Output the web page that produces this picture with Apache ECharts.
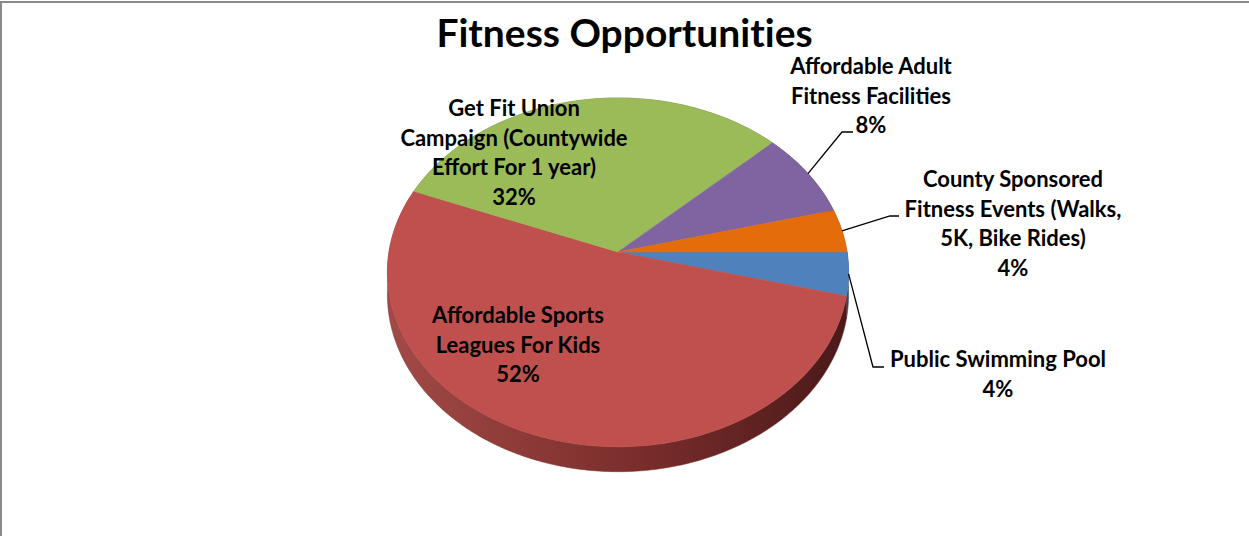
<!DOCTYPE html>
<html>
<head>
<meta charset="utf-8">
<title>Fitness Opportunities</title>
<script src="https://cdn.jsdelivr.net/npm/echarts@6/dist/echarts.min.js"></script>
<style>
  html, body { margin: 0; padding: 0; background: #ffffff; }
  #chart { width: 1249px; height: 536px; }
  #chart text { font-variant-ligatures: none; font-feature-settings: "liga" 0, "clig" 0; }
</style>
</head>
<body>
<div id="chart"></div>
<script>
// ---- data ----
const categories = [
  'Public Swimming Pool',
  'Affordable Sports\nLeagues For Kids',
  'Get Fit Union\nCampaign (Countywide\nEffort For 1 year)',
  'Affordable Adult\nFitness Facilities',
  'County Sponsored\nFitness Events (Walks,\n5K, Bike Rides)'
];
const shares = [4, 52, 32, 8, 4];

// ---- styling ----
const topColors = ['#4F81BD', '#C0504D', '#9BBB59', '#8064A2', '#E46C0A'];
const wallColors = [
  ['#3d6494', '#2c4a70', '#1f3552'],
  ['#a24a47', '#7a2d2b', '#4a1a19'],
  ['#7a9446', '#5c7034', '#3f4d24'],
  ['#654f80', '#4b3b60', '#332840'],
  ['#b45508', '#874006', '#5a2b04']
];
const FONT = 'Lato, "Open Sans", sans-serif';

// tilted disc with mild perspective
const disc = { cx: 618, cy: 252, R: 229, A: 172, k: 0.117, depth: 22 };

// label block anchors (centre x, centre of first line) and leader elbows
const labelLayout = [
  { x: 998,  y: 358.5, leader: [[873, 367], [884, 367]] },
  { x: 518,  y: 314.5 },
  { x: 514,  y: 107.5 },
  { x: 871,  y: 65.5,  leader: [[842, 132], [853, 132]] },
  { x: 1013, y: 178.5, leader: [[890, 216], [899, 216]] }
];
const LINE_H = 29.5;

const total = shares.reduce((s, v) => s + v, 0);

function sliceRange(i) {
  let before = 0;
  for (let j = 0; j < i; j++) before += shares[j];
  const a0 = before / total * 360;
  const a1 = (before + shares[i]) / total * 360;
  return [a0, a1];
}

function project(deg, dz) {
  const t = deg * Math.PI / 180;
  const u = Math.sin(t);
  const d = 1 - disc.k * u;
  return [disc.cx + disc.R * Math.cos(t) / d, disc.cy + (disc.A * u + (dz || 0)) / d];
}

function arc(a0, a1, dz) {
  const pts = [];
  const n = Math.max(2, Math.ceil((a1 - a0) / 0.75));
  for (let s = 0; s <= n; s++) pts.push(project(a0 + (a1 - a0) * s / n, dz));
  return pts;
}

function renderWall(params, api) {
  const i = params.dataIndex;
  const [a0, a1] = sliceRange(i);
  const pts = arc(a0, a1, 0).concat(arc(a0, a1, disc.depth).reverse());
  const c = wallColors[i];
  return {
    type: 'polygon',
    shape: { points: pts },
    style: {
      fill: new echarts.graphic.LinearGradient(0, 0, 1, 0, [
        { offset: 0, color: c[0] },
        { offset: 0.55, color: c[1] },
        { offset: 1, color: c[2] }
      ]),
      stroke: c[1],
      lineWidth: 0.5
    }
  };
}

function renderTop(params, api) {
  const i = params.dataIndex;
  const value = api.value(0);
  const [a0, a1] = sliceRange(i);
  const pts = [[disc.cx, disc.cy]].concat(arc(a0, a1, 0));
  const children = [{
    type: 'polygon',
    shape: { points: pts },
    style: { fill: topColors[i], stroke: topColors[i], lineWidth: 0.6 }
  }];
  const lay = labelLayout[i];
  const text = categories[i] + '\n' + Math.round(value / total * 100) + '%';
  children.push({
    type: 'text',
    x: lay.x,
    y: lay.y - LINE_H / 2,
    z2: 10,
    style: {
      text: text,
      fill: '#000000',
      font: 'bold 22px ' + FONT,
      align: 'center',
      verticalAlign: 'top',
      lineHeight: LINE_H
    }
  });
  if (lay.leader) {
    const mid = (a0 + a1) / 2;
    children.push({
      type: 'polyline',
      z2: 9,
      shape: { points: [project(mid, 0)].concat(lay.leader) },
      style: { stroke: '#000000', lineWidth: 1.3, fill: null }
    });
  }
  return { type: 'group', children: children };
}

const chart = echarts.init(document.getElementById('chart'), null, { renderer: 'svg' });
chart.setOption({
  backgroundColor: '#ffffff',
  animation: false,
  title: {
    text: 'Fitness Opportunities',
    left: 'center',
    top: 7,
    textStyle: { fontFamily: FONT, fontWeight: 'bold', fontSize: 39, color: '#000000' }
  },
  graphic: [{
    type: 'rect',
    silent: true,
    shape: { x: 1, y: 2, width: 1400, height: 700 },
    style: { fill: null, stroke: '#8a8a8a', lineWidth: 2 }
  }],
  series: [
    {
      type: 'custom',
      name: 'walls',
      coordinateSystem: 'none',
      silent: true,
      z: 1,
      renderItem: renderWall,
      data: shares
    },
    {
      type: 'custom',
      name: 'Fitness Opportunities',
      coordinateSystem: 'none',
      silent: true,
      z: 2,
      renderItem: renderTop,
      data: shares
    }
  ]
});
</script>
</body>
</html>
